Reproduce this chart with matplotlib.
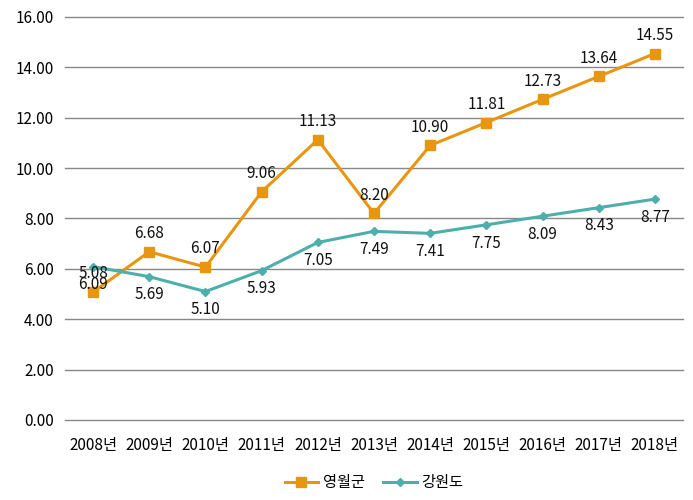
import matplotlib
matplotlib.use("Agg")
import matplotlib.pyplot as plt

plt.rcParams['font.family'] = ['Noto Sans CJK KR', 'DejaVu Sans']

years = ["2008년", "2009년", "2010년", "2011년", "2012년", "2013년",
         "2014년", "2015년", "2016년", "2017년", "2018년"]
yeongwol = [5.08, 6.68, 6.07, 9.06, 11.13, 8.20, 10.90, 11.81, 12.73, 13.64, 14.55]
gangwon = [6.09, 5.69, 5.10, 5.93, 7.05, 7.49, 7.41, 7.75, 8.09, 8.43, 8.77]
yticks = [0, 2, 4, 6, 8, 10, 12, 14, 16]

c_or = "#E8960F"
c_te = "#4DAFAC"

fig = plt.figure(figsize=(6.93, 5.0), dpi=100)
ax = fig.add_axes([65/693, 80/500, (683-65)/693, (420-17)/500])
x = list(range(len(years)))

ax.plot(x, yeongwol, color=c_or, lw=2.2, marker="s", ms=6.5, label="영월군", zorder=3)
ax.plot(x, gangwon, color=c_te, lw=2.2, marker="D", ms=4, label="강원도", zorder=3)

for xi, v in zip(x, yeongwol):
    ax.annotate(f"{v:.2f}", (xi, v), xytext=(0, 7), textcoords="offset points",
                ha="center", va="bottom", fontsize=11, color="#111111")
for xi, v in zip(x, gangwon):
    ax.annotate(f"{v:.2f}", (xi, v), xytext=(0, -7), textcoords="offset points",
                ha="center", va="top", fontsize=11, color="#111111")

ax.set_xlim(-0.5, len(years) - 0.5)
ax.set_ylim(0, 16)
ax.set_yticks(yticks)
ax.set_yticklabels([f"{t:.2f}" for t in yticks], fontsize=11)
ax.set_xticks(x)
ax.set_xticklabels(years, fontsize=11)
for t in yticks:
    ax.axhline(t, color="#888888", lw=1, zorder=0, clip_on=False)
for s in ax.spines.values():
    s.set_visible(False)
ax.tick_params(axis="y", length=0, pad=8)
ax.tick_params(axis="x", length=0, pad=12)

ax.legend(loc="upper center", bbox_to_anchor=(0.5, -0.1), ncol=2, frameon=False,
          fontsize=11, handlelength=2.2, columnspacing=1.2, handletextpad=0.3)

fig.savefig("out.png", dpi=100)
